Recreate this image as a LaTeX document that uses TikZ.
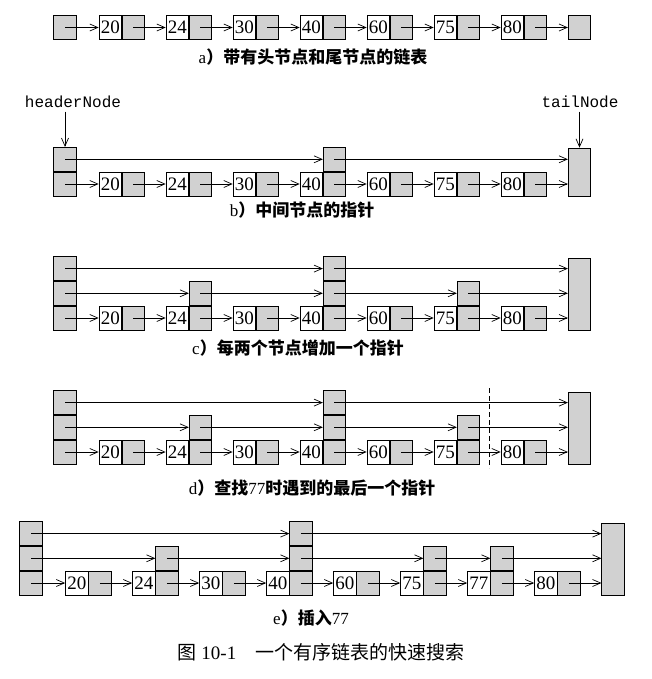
\documentclass[tikz,border=0pt]{standalone}
\usepackage{fontspec}
\setmainfont{Liberation Serif}
\setmonofont{Liberation Mono}
\newfontfamily\cjk{Noto Sans CJK SC}
\usetikzlibrary{arrows.meta,positioning}

\begin{document}
\begin{tikzpicture}[x=1pt, y=-1pt, line width=0.7pt]
  \tikzstyle{valcell} = [draw, rectangle, fill=white, inner sep=0pt, minimum width=22.5pt, minimum height=24pt, font={\fontsize{19}{19}\selectfont}]
  \tikzstyle{ptrcell} = [draw, rectangle, fill=black!18, inner sep=0pt, minimum width=22.5pt, minimum height=24pt]
  \tikzstyle{link} = [-{Straight Barb[length=8pt,width=7pt]}]
  \tikzstyle{caption} = [font={\fontsize{17}{17}\selectfont}]
  \tikzstyle{varname} = [font={\ttfamily\fontsize{16}{16}\selectfont}]

  \useasboundingbox (0,0) rectangle (651,679);

  % a) head and tail
  \node[ptrcell] (ahead) at (65,27.5) {};
  \foreach \v [count=\i from 0] in {20,24,30,40,60,75,80} {
    \node[valcell] (a\v) at (110.25+67*\i,27.5) {\v};
    \node[ptrcell, right=0pt of a\v] (a\v p) {};
  }
  \node[ptrcell] (atail) at (579.5,27.5) {};
  \path[link] (ahead.center) edge (a20.west)
    (a80p.center) edge (atail.west);
  \foreach \u/\v in {20/24,24/30,30/40,40/60,60/75,75/80}
    \path[link] (a\u p.center) edge (a\v.west);
  \node[caption] (capa) at (313,57) {a{\cjk\bfseries ）带有头节点和尾节点的链表}};

  % b) middle pointer
  \node[ptrcell] (bh1) at (65,184) {};
  \node[ptrcell, above=0pt of bh1] (bh2) {};
  \foreach \v [count=\i from 0] in {20,24,30,40,60,75,80} {
    \node[valcell] (b\v) at (110.25+67*\i,184) {\v};
    \node[ptrcell, right=0pt of b\v] (b\v p) {};
  }
  \node[ptrcell, above=0pt of b40p] (b40q) {};
  \node[ptrcell, minimum height=48pt] (btail) at (579.5,172) {};
  \node[varname] (hdr) at (73,102) {headerNode};
  \node[varname] (tln) at (580,102) {tailNode};
  \path[link] (bh2.north |- hdr.south) edge (bh2.north)
    (btail.north |- tln.south) edge (btail.north);
  \path[link] (bh2.center) edge (b40q.west)
    (b40q.center) edge (b40q.center -| btail.west);
  \path[link] (bh1.center) edge (b20.west)
    (b80p.center) edge (b80p.center -| btail.west);
  \foreach \u/\v in {20/24,24/30,30/40,40/60,60/75,75/80}
    \path[link] (b\u p.center) edge (b\v.west);
  \node[caption] (capb) at (302,210) {b{\cjk\bfseries ）中间节点的指针}};

  % c) every second node
  \node[ptrcell] (ch1) at (65,318) {};
  \node[ptrcell, above=0pt of ch1] (ch2) {};
  \node[ptrcell, above=0pt of ch2] (ch3) {};
  \foreach \v [count=\i from 0] in {20,24,30,40,60,75,80} {
    \node[valcell] (c\v) at (110.25+67*\i,318) {\v};
    \node[ptrcell, right=0pt of c\v] (c\v p) {};
  }
  \node[ptrcell, above=0pt of c24p] (c24q) {};
  \node[ptrcell, above=0pt of c40p] (c40q) {};
  \node[ptrcell, above=0pt of c40q] (c40r) {};
  \node[ptrcell, above=0pt of c75p] (c75q) {};
  \node[ptrcell, minimum height=72pt] (ctail) at (579.5,294) {};
  \path[link] (ch3.center) edge (c40r.west)
    (c40r.center) edge (c40r.center -| ctail.west);
  \path[link] (ch2.center) edge (c24q.west)
    (c24q.center) edge (c40q.west)
    (c40q.center) edge (c75q.west)
    (c75q.center) edge (c75q.center -| ctail.west);
  \path[link] (ch1.center) edge (c20.west)
    (c80p.center) edge (c80p.center -| ctail.west);
  \foreach \u/\v in {20/24,24/30,30/40,40/60,60/75,75/80}
    \path[link] (c\u p.center) edge (c\v.west);
  \node[caption] (capc) at (298,348) {c{\cjk\bfseries ）每两个节点增加一个指针}};

  % d) search for 77
  \node[ptrcell] (dh1) at (65,452) {};
  \node[ptrcell, above=0pt of dh1] (dh2) {};
  \node[ptrcell, above=0pt of dh2] (dh3) {};
  \foreach \v [count=\i from 0] in {20,24,30,40,60,75,80} {
    \node[valcell] (d\v) at (110.25+67*\i,452) {\v};
    \node[ptrcell, right=0pt of d\v] (d\v p) {};
  }
  \node[ptrcell, above=0pt of d24p] (d24q) {};
  \node[ptrcell, above=0pt of d40p] (d40q) {};
  \node[ptrcell, above=0pt of d40q] (d40r) {};
  \node[ptrcell, above=0pt of d75p] (d75q) {};
  \node[ptrcell, minimum height=72pt] (dtail) at (579.5,428) {};
  \path[link] (dh3.center) edge (d40r.west)
    (d40r.center) edge (d40r.center -| dtail.west);
  \path[link] (dh2.center) edge (d24q.west)
    (d24q.center) edge (d40q.west)
    (d40q.center) edge (d75q.west)
    (d75q.center) edge (d75q.center -| dtail.west);
  \path[link] (dh1.center) edge (d20.west)
    (d80p.center) edge (d80p.center -| dtail.west);
  \foreach \u/\v in {20/24,24/30,30/40,40/60,60/75,75/80}
    \path[link] (d\u p.center) edge (d\v.west);
  \draw[dash pattern=on 5pt off 3pt] (489.5,388) -- (489.5,468);
  \node[caption] (capd) at (312,488) {d{\cjk\bfseries ）查找}77{\cjk\bfseries 时遇到的最后一个指针}};

  % e) insert 77
  \node[ptrcell] (eh1) at (31,583) {};
  \node[ptrcell, above=0pt of eh1] (eh2) {};
  \node[ptrcell, above=0pt of eh2] (eh3) {};
  \foreach \v [count=\i from 0] in {20,24,30,40,60,75,77,80} {
    \node[valcell] (e\v) at (76.75+67*\i,583) {\v};
    \node[ptrcell, right=0pt of e\v] (e\v p) {};
  }
  \node[ptrcell, above=0pt of e24p] (e24q) {};
  \node[ptrcell, above=0pt of e40p] (e40q) {};
  \node[ptrcell, above=0pt of e40q] (e40r) {};
  \node[ptrcell, above=0pt of e75p] (e75q) {};
  \node[ptrcell, above=0pt of e77p] (e77q) {};
  \node[ptrcell, minimum height=72pt] (etail) at (613,559) {};
  \path[link] (eh3.center) edge (e40r.west)
    (e40r.center) edge (e40r.center -| etail.west);
  \path[link] (eh2.center) edge (e24q.west)
    (e24q.center) edge (e40q.west)
    (e40q.center) edge (e75q.west)
    (e75q.center) edge (e77q.west)
    (e77q.center) edge (e77q.center -| etail.west);
  \path[link] (eh1.center) edge (e20.west)
    (e80p.center) edge (e80p.center -| etail.west);
  \foreach \u/\v in {20/24,24/30,30/40,40/60,60/75,75/77,77/80}
    \path[link] (e\u p.center) edge (e\v.west);
  \node[caption] (cape) at (311,618) {e{\cjk\bfseries ）插入}77};

  \node[font={\fontsize{19}{19}\selectfont}] (figcap) at (321,652) {{\cjk 图} 10-1{\cjk 　一个有序链表的快速搜索}};
\end{tikzpicture}
\end{document}
